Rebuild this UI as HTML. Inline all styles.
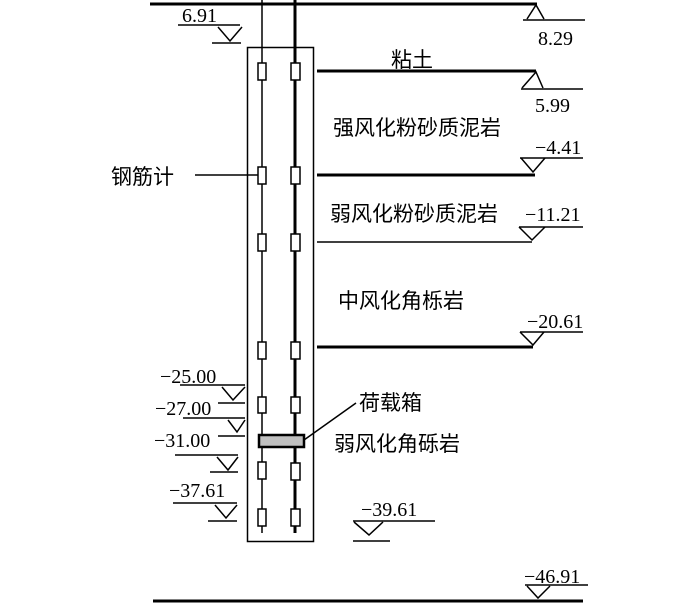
<!DOCTYPE html>
<html><head><meta charset="utf-8"><style>
html,body{margin:0;padding:0;background:#fff;}
svg{display:block;}
text{font-family:"Liberation Serif","Noto Serif CJK SC",serif;font-size:20px;fill:#000;}
.cn{font-family:"Liberation Sans","Noto Sans CJK SC",sans-serif;font-size:21px;}
</style></head><body>
<svg width="700" height="604" viewBox="0 0 700 604" xmlns="http://www.w3.org/2000/svg">
<g stroke="#000" fill="none">
<line x1="150" y1="4" x2="537" y2="4" stroke-width="3"/>
<line x1="153" y1="601" x2="583" y2="601" stroke-width="3"/>
<rect x="247.5" y="47.5" width="66" height="494" stroke-width="1.5"/>
<line x1="262" y1="0" x2="262" y2="533" stroke-width="1.5"/>
<line x1="295" y1="0" x2="295" y2="533" stroke-width="3"/>
<line x1="317" y1="71" x2="536" y2="71" stroke-width="3"/>
<line x1="317" y1="175" x2="535" y2="175" stroke-width="3"/>
<line x1="317" y1="242" x2="532" y2="242" stroke-width="1.5"/>
<line x1="317" y1="347" x2="533" y2="347" stroke-width="3"/>
<line x1="195" y1="175" x2="262" y2="175" stroke-width="1.5"/>
<line x1="304" y1="440" x2="356" y2="403" stroke-width="1.5"/>
<g stroke-width="1.5">
<polyline points="527,19 536,5 544,19"/><line x1="523" y1="20" x2="585" y2="20"/>
<line x1="178" y1="25" x2="240" y2="25"/><polyline points="218,27 230,41 242,27"/><line x1="212" y1="43" x2="241" y2="43"/>
<polyline points="522,88 536,72 543,88"/><line x1="521" y1="89" x2="583" y2="89"/>
<line x1="520" y1="158" x2="583" y2="158"/><polyline points="521,158 533,172 545,158"/>
<line x1="519" y1="227" x2="583" y2="227"/><polyline points="519,227 532,240 545,227"/>
<line x1="520" y1="332" x2="583" y2="332"/><polyline points="520,332 533,345 544,332"/>
<line x1="180" y1="385" x2="245" y2="385"/><polyline points="222,387 233,400 245,387"/><line x1="218" y1="403" x2="245" y2="403"/>
<line x1="183" y1="418" x2="245" y2="418"/><polyline points="228,420 237,432 245,420"/><line x1="218" y1="436" x2="245" y2="436"/>
<line x1="175" y1="455" x2="238" y2="455"/><polyline points="217,457 228,470 238,457"/><line x1="210" y1="472" x2="238" y2="472"/>
<line x1="173" y1="503" x2="237" y2="503"/><polyline points="215,505 226,518 237,505"/><line x1="208" y1="521" x2="237" y2="521"/>
<line x1="353" y1="521" x2="435" y2="521"/><polyline points="354,522 369,535 383,522"/><line x1="353" y1="541" x2="390" y2="541"/>
<line x1="525" y1="585" x2="588" y2="585"/><polyline points="527,586 538,598 550,586"/>
</g>
</g>
<g fill="#fff" stroke="#000" stroke-width="1.5">
<rect x="258" y="63" width="8" height="17"/><rect x="291" y="63" width="9" height="17"/>
<rect x="258" y="167" width="8" height="17"/><rect x="291" y="167" width="9" height="17"/>
<rect x="258" y="234" width="8" height="17"/><rect x="291" y="234" width="9" height="17"/>
<rect x="258" y="342" width="8" height="17"/><rect x="291" y="342" width="9" height="17"/>
<rect x="258" y="397" width="8" height="16"/><rect x="291" y="397" width="9" height="16"/>
<rect x="258" y="462" width="8" height="17"/><rect x="291" y="463" width="9" height="17"/>
<rect x="258" y="509" width="8" height="17"/><rect x="291" y="509" width="9" height="17"/>
</g>
<rect x="259" y="435" width="45" height="12" fill="#c0c0c0" stroke="#000" stroke-width="2.5"/>
<text x="182" y="22">6.91</text>
<text x="538" y="45">8.29</text>
<text x="535" y="112">5.99</text>
<text x="535" y="154">−4.41</text>
<text x="525" y="221">−11.21</text>
<text x="527" y="328">−20.61</text>
<text x="160" y="383">−25.00</text>
<text x="155" y="415">−27.00</text>
<text x="154" y="447">−31.00</text>
<text x="169" y="497">−37.61</text>
<text x="361" y="516">−39.61</text>
<text x="524" y="583">−46.91</text>
<text class="cn" x="391" y="67">粘土</text>
<text class="cn" x="333" y="135">强风化粉砂质泥岩</text>
<text class="cn" x="330" y="221">弱风化粉砂质泥岩</text>
<text class="cn" x="338" y="308">中风化角栎岩</text>
<text class="cn" x="334" y="451">弱风化角砾岩</text>
<text class="cn" x="359" y="410">荷载箱</text>
<text class="cn" x="111" y="184">钢筋计</text>
</svg>
</body></html>
